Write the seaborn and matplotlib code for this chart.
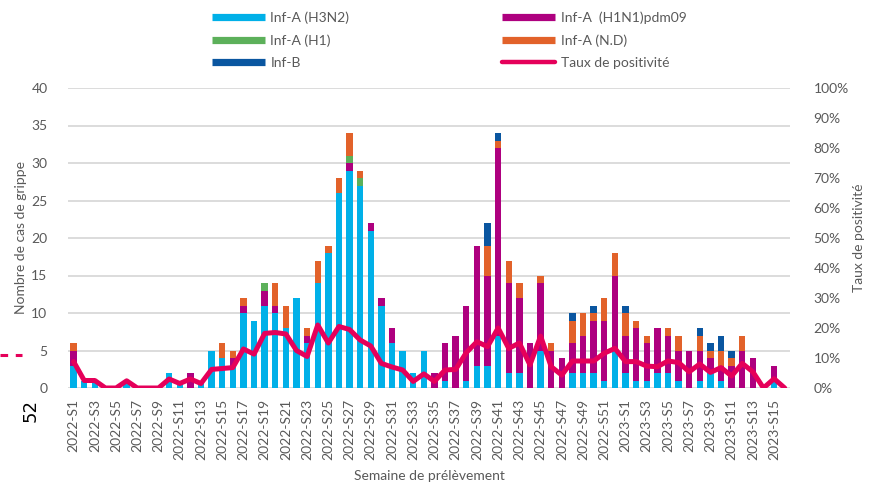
import numpy as np
import pandas as pd
import matplotlib
matplotlib.use("Agg")
import matplotlib.pyplot as plt
import seaborn as sns
from matplotlib.lines import Line2D
from matplotlib.ticker import PercentFormatter, MultipleLocator

# ---------------- data ----------------
weeks = ([f"2022-S{i}" for i in range(1, 53)] +
         [f"2023-S{i}" for i in range(1, 17)])

h3n2 = [3, 1, 1, 0, 0, 1, 0, 0, 0, 2, 1, 0, 1, 5, 4, 3, 10, 9, 11, 10,
        8, 12, 6, 14, 18, 26, 29, 27, 21, 11, 6, 5, 2, 5, 0, 1, 0, 1, 3, 3,
        7, 2, 2, 0, 5, 0, 0, 2, 2, 2, 1, 5, 2, 1, 1, 2, 2, 1, 0, 1,
        2, 1, 0, 0, 0, 0, 1, 0]
h1n1 = [2, 0, 0, 0, 0, 0, 0, 0, 0, 0, 0, 2, 0, 0, 0, 1, 1, 0, 2, 1,
        0, 0, 1, 0, 0, 0, 1, 0, 1, 1, 2, 0, 0, 0, 2, 5, 7, 10, 16, 12,
        25, 12, 10, 6, 9, 5, 4, 4, 5, 7, 8, 10, 5, 7, 5, 6, 5, 4, 5, 4,
        2, 2, 3, 5, 4, 0, 2, 0]
h1 = [0, 0, 0, 0, 0, 0, 0, 0, 0, 0, 0, 0, 0, 0, 0, 0, 0, 0, 1, 0,
      0, 0, 0, 0, 0, 0, 1, 1, 0, 0, 0, 0, 0, 0, 0, 0, 0, 0, 0, 0,
      0, 0, 0, 0, 0, 0, 0, 0, 0, 0, 0, 0, 0, 0, 0, 0, 0, 0, 0, 0,
      0, 0, 0, 0, 0, 0, 0, 0]
nd = [1, 0, 0, 0, 0, 0, 0, 0, 0, 0, 0, 0, 0, 0, 2, 1, 1, 0, 0, 3,
      3, 0, 1, 3, 1, 2, 3, 1, 0, 0, 0, 0, 0, 0, 0, 0, 0, 0, 0, 4,
      1, 3, 2, 0, 1, 1, 0, 3, 3, 1, 3, 3, 3, 1, 1, 0, 1, 2, 0, 2,
      1, 2, 1, 2, 0, 0, 0, 0]
infb = [0, 0, 0, 0, 0, 0, 0, 0, 0, 0, 0, 0, 0, 0, 0, 0, 0, 0, 0, 0,
        0, 0, 0, 0, 0, 0, 0, 0, 0, 0, 0, 0, 0, 0, 0, 0, 0, 0, 0, 3,
        1, 0, 0, 0, 0, 0, 0, 1, 0, 1, 0, 0, 1, 0, 0, 0, 0, 0, 0, 1,
        1, 2, 1, 0, 0, 0, 0, 0]
taux = [8.8, 2.5, 2.5, 0, 0, 2.4, 0, 0, 0, 3, 1.5, 3, 1.5, 6.2, 6.5, 6.8,
        13, 11.3, 18.2, 18.5, 18, 12.5, 10.5, 21, 15, 20.5, 19.5, 16, 14,
        8.2, 7, 6, 2.2, 4.7, 2.2, 6, 6.2, 11.8, 15.4, 13.8, 20, 13.2, 15,
        7.7, 17.3, 7.1, 4.3, 9, 9, 9, 11.6, 13.2, 8.8, 8.8, 7.3, 7.1, 9,
        8.5, 5.4, 8, 5.2, 6.8, 4, 8.2, 5.4, 0, 3.1, 0]

series_names = ["Inf-A (H3N2)", "Inf-A  (H1N1)pdm09", "Inf-A (H1)",
                "Inf-A (N.D)", "Inf-B"]
series_vals = [h3n2, h1n1, h1, nd, infb]
series_cols = ["#00B0E8", "#AE007F", "#5CB05A", "#E2622A", "#0A56A0"]
line_col = "#E5005A"
line_name = "Taux de positivité"
grey = "#595959"

# ---------------- figure ----------------
sns.set_theme(style="white")
plt.rcParams['font.family'] = ['Lato', 'DejaVu Sans']

fig = plt.figure(figsize=(8.73, 4.84), dpi=100)
L, R, T, B = 68.3, 790, 88, 388
ax = fig.add_axes([L / 873, 1 - B / 484, (R - L) / 873, (B - T) / 484])

df = pd.DataFrame({"week": weeks})
cum = np.zeros(len(weeks))
cum_cols = []
for name, vals in zip(series_names, series_vals):
    cum = cum + np.array(vals)
    df[name] = cum
    cum_cols.append(name)

for name, col in reversed(list(zip(cum_cols, series_cols))):
    sns.barplot(data=df, x="week", y=name, order=weeks, color=col,
                saturation=1, width=0.6, errorbar=None, linewidth=0, ax=ax)

ax.set_ylim(0, 40)
ax.yaxis.set_major_locator(MultipleLocator(5))
ax.grid(axis='y', color='#D9D9D9', lw=1.3)
ax.grid(axis='x', visible=False)
ax.set_axisbelow(True)

ax2 = ax.twinx()
sns.lineplot(x=np.arange(len(weeks)), y=np.array(taux) / 100, ax=ax2,
             color=line_col, lw=3.6, solid_joinstyle='round',
             solid_capstyle='round')
ax2.set_ylim(0, 1)
ax2.yaxis.set_major_locator(MultipleLocator(0.1))
ax2.yaxis.set_major_formatter(PercentFormatter(1, decimals=0))
ax2.grid(False)

ax.set_xlim(-0.5, len(weeks) - 0.5)
ax.set_xticks(range(0, len(weeks), 2))
ax.set_xticklabels(weeks[::2], rotation=90)

for a in (ax, ax2):
    for s in a.spines.values():
        s.set_visible(False)
ax.tick_params(axis='both', length=0, labelsize=10, colors=grey)
ax.tick_params(axis='y', pad=15)
ax.tick_params(axis='x', pad=8)
ax2.tick_params(axis='y', length=0, labelsize=10, colors=grey, pad=17)

ax.set_ylabel("Nombre de cas de grippe", fontsize=10, color=grey, labelpad=3)
ax2.set_ylabel(line_name, fontsize=10, color=grey, labelpad=3)
ax.set_xlabel("Semaine de prélèvement", fontsize=10, color=grey, labelpad=7)

# legend
handles = [Line2D([], [], color=c, lw=5.2, solid_capstyle='butt')
           for c in series_cols]
hmap = dict(zip(series_names, handles))
order_h = [hmap["Inf-A (H3N2)"], hmap["Inf-A (H1)"], hmap["Inf-B"],
           hmap["Inf-A  (H1N1)pdm09"], hmap["Inf-A (N.D)"],
           Line2D([], [], color=line_col, lw=3.2, solid_capstyle='round')]
order_l = ["Inf-A (H3N2)", "Inf-A (H1)", "Inf-B", "Inf-A  (H1N1)pdm09",
           "Inf-A (N.D)", line_name]
leg = fig.legend(order_h, order_l, ncol=2, loc='upper left',
                 bbox_to_anchor=(201 / 873, 1.0), frameon=False,
                 handlelength=3.8, handletextpad=0.4, columnspacing=11,
                 labelspacing=0.76, fontsize=10, borderaxespad=0.4)
for t in leg.get_texts():
    t.set_color(grey)

# leftover fragments at the left edge of the reference image
fig.add_artist(Line2D([0, 22 / 873], [1 - 355 / 484] * 2,
                      transform=fig.transFigure, color=line_col, lw=2.2,
                      ls=(0, (2.5, 2.5))))
fig.text(31 / 873, 1 - 410 / 484, "52", rotation=90, fontsize=13,
         color='black', ha='center', va='center', family='DejaVu Sans')

fig.savefig("out.png", dpi=100)
